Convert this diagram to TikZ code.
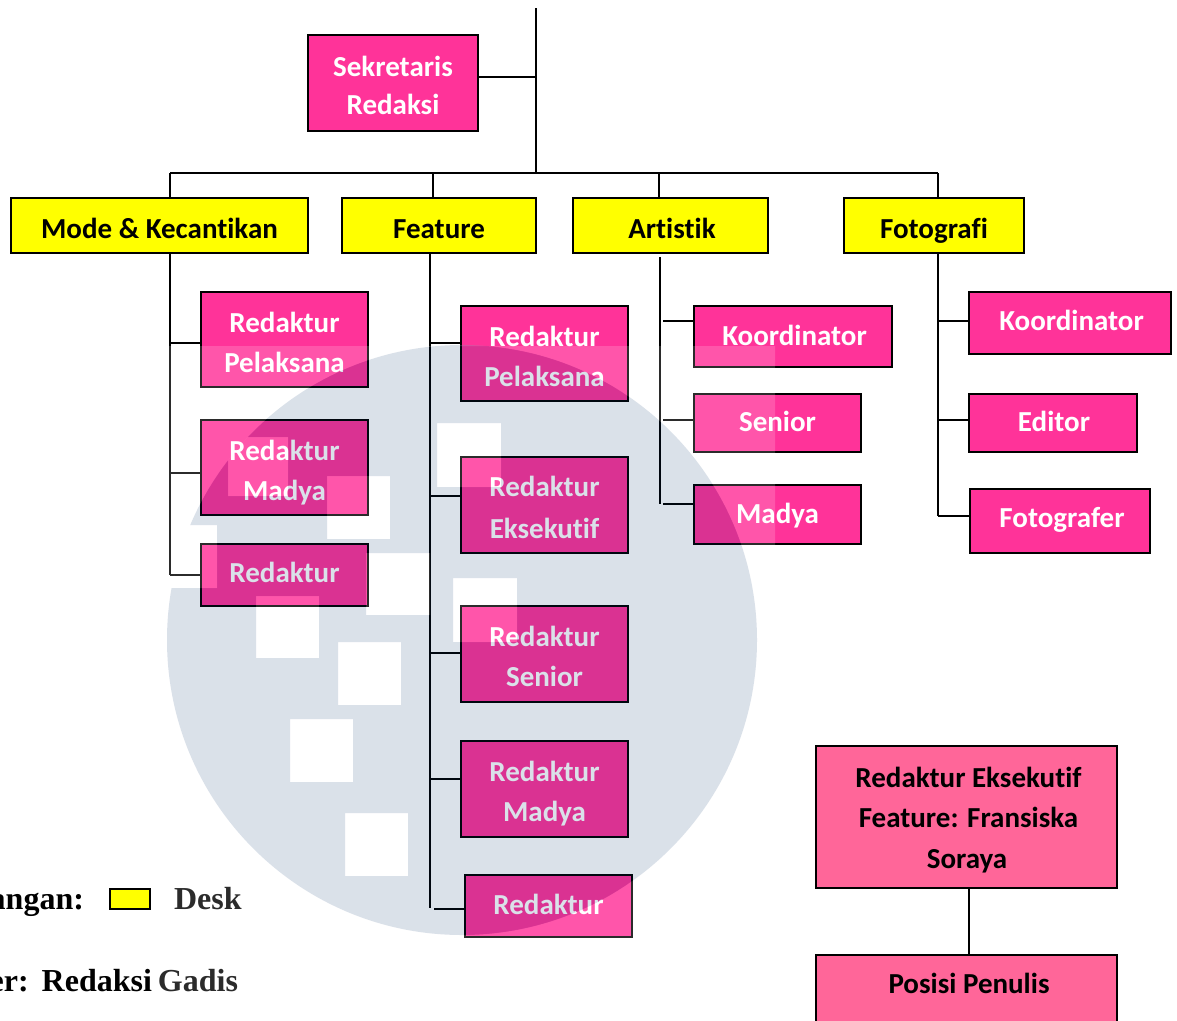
\documentclass[tikz,border=0pt]{standalone}
\usepackage{fontspec}
\setmainfont[Ligatures=NoCommon]{Carlito}
\newfontfamily\legendfont{Liberation Serif}
\definecolor{deskyellow}{HTML}{FFFF00}
\definecolor{rolepink}{HTML}{FF3399}
\definecolor{notepink}{HTML}{FF6699}
\definecolor{wmnavy}{RGB}{0,50,107}
\newcommand{\lineroom}[1]{\rule{0pt}{#1}}
\tikzset{
	boxtext/.style={execute at begin node={\lineroom{#1}}, execute at end node={\rule[-8pt]{0pt}{0pt}}},
	deskbox/.style={draw=black, line width=2pt, fill=deskyellow, text=black, inner sep=0pt, font=\fontsize{29}{40}\selectfont\bfseries},
	rolebox/.style={draw=black, line width=2pt, fill=rolepink, text=white, inner sep=0pt, align=center, font=\fontsize{29}{40}\selectfont\bfseries},
	roleone/.style={rolebox, boxtext=25pt},
	roletwo/.style={rolebox, execute at end node={\rule[-8pt]{0pt}{0pt}}},
	notebox/.style={draw=black, line width=2pt, fill=notepink, text=black, inner sep=0pt, align=center, font=\fontsize{29}{40.5}\selectfont\bfseries},
	legendtext/.style={inner sep=0pt, text=black, font=\fontsize{32}{36}\legendfont\bfseries}
}
% white squares of the watermark
\def\wmholes{(228,437) rectangle (288,496) (327,476) rectangle (390,539) (150,525) rectangle (217,588)
	(366,553) rectangle (430,615) (256,596) rectangle (319,658) (338,642) rectangle (401,705)
	(437,423) rectangle (501,487) (453,578) rectangle (517,642) (290,719) rectangle (353,782)
	(345,813) rectangle (408,876)}
\begin{document}
\begin{tikzpicture}[x=1pt, y=-1pt, line width=2pt]
	\useasboundingbox (0,0) rectangle (1177,1020);
	\fill[white] (0,0) rectangle (1177,1020);
	% top
	\node[roletwo, minimum width=170, minimum height=96] (sekre) at (393,83) {\lineroom{33pt}Sekretaris\\[-2pt]Redaksi};
	% desks
	\node[deskbox, boxtext=33pt, minimum width=297, minimum height=55] (mode) at (159.5,225.5) {Mode \& Kecantikan};
	\node[deskbox, boxtext=33pt, minimum width=194, minimum height=55] (feature) at (439,225.5) {Feature};
	\node[deskbox, boxtext=33pt, minimum width=195, minimum height=55] (artistik) at (670.5,225.5) {\hspace*{3pt}Artistik};
	\node[deskbox, boxtext=33pt, minimum width=180, minimum height=55] (foto) at (934,225.5) {Fotografi};
	% mode
	\node[roletwo, minimum width=167, minimum height=95] (mode1) at (284.5,339.5) {\lineroom{33pt}Redaktur\\Pelaksana};
	\node[roletwo, minimum width=167, minimum height=95] (mode2) at (284.5,467.5) {\lineroom{33pt}Redaktur\\Madya};
	\node[rolebox, boxtext=22pt, minimum width=167, minimum height=62] (mode3) at (284.5,575) {Redaktur};
	% feature
	\node[roletwo, minimum width=167, minimum height=95] (feat1) at (544.5,353.5) {\lineroom{33pt}Redaktur\\Pelaksana};
	\node[roletwo, minimum width=167, minimum height=96] (feat2) at (544.5,505) {\lineroom{33pt}Redaktur\\[2pt]Eksekutif};
	\node[roletwo, minimum width=167, minimum height=96] (feat3) at (544.5,654) {\lineroom{33pt}Redaktur\\Senior};
	\node[roletwo, minimum width=167, minimum height=96] (feat4) at (544.5,789) {\lineroom{33pt}Redaktur\\Madya};
	\node[roleone, minimum width=167, minimum height=62] (feat5) at (548.5,906) {Redaktur};
	% artistik
	\node[roleone, minimum width=198, minimum height=61] (art1) at (793,336.5) {\hspace*{3pt}Koordinator};
	\node[roleone, minimum width=167, minimum height=58] (art2) at (777.5,423) {Senior};
	\node[roleone, minimum width=167, minimum height=59] (art3) at (777.5,514.5) {Madya};
	% fotografi
	\node[rolebox, boxtext=22pt, minimum width=202, minimum height=62] (foto1) at (1070,323) {\hspace*{3pt}Koordinator};
	\node[roleone, minimum width=168, minimum height=58] (foto2) at (1053,423) {\hspace*{2pt}Editor};
	\node[rolebox, boxtext=22pt, minimum width=180, minimum height=64] (foto3) at (1060,520.5) {\hspace*{4pt}Fotografer};
	% writer position
	\node[notebox, execute at end node={\rule[-8pt]{0pt}{0pt}}, minimum width=301, minimum height=142] (eks) at (966.5,817) {\lineroom{29pt}\hspace*{4pt}Redaktur Eksekutif\\\hspace*{4pt}Feature: Fransiska\\\hspace*{1pt}Soraya};
	\node[notebox, anchor=north, minimum width=301, text height=38pt, text depth=50pt] (penulis) at (966.5,954) {\hspace*{5pt}Posisi Penulis};
	% legend
	\node[deskbox, minimum width=40, minimum height=20] (legbox) at (130,899) {};
	\node[legendtext, anchor=base east] (legkey) at (85,909) {angan:};
	\node[legendtext, anchor=base west] (legdesk) at (173,909) {Desk};
	\node[legendtext, anchor=base east] (legsrc) at (239,991) {er:\hspace{13pt}Redaksi\hspace{6pt}Gadis};
	% junctions
	\coordinate (start) at (536,8);
	\coordinate (sj) at (536,77);
	\coordinate (hub) at (536,173);
	\coordinate (dA) at (170,173);
	\coordinate (dB) at (433,173);
	\coordinate (dC) at (659,173);
	\coordinate (dD) at (938,173);
	\coordinate (vA) at (170,254);
	\coordinate (eA) at (170,575);
	\coordinate (vB) at (430,254);
	\coordinate (eB) at (430,908);
	\coordinate (vC) at (660,257);
	\coordinate (eC) at (660,504);
	\coordinate (vD) at (938,254);
	\coordinate (eD) at (938,516);
	\coordinate (A1) at (170,343);
	\coordinate (A2) at (170,473);
	\coordinate (B1) at (430,343);
	\coordinate (B2) at (430,496);
	\coordinate (B3) at (430,653);
	\coordinate (B4) at (430,779);
	\coordinate (B5) at (434,909);
	\coordinate (C1) at (663,321);
	\coordinate (C2) at (663,420);
	\coordinate (C3) at (663,504);
	\coordinate (D1) at (938,321);
	\coordinate (D2) at (938,420);
	% connectors
	\draw (start)--(hub) (sj)--(sj -| sekre.east);
	\draw (dA)--(dD);
	\draw (dA)--(dA |- mode.north) (dB)--(dB |- feature.north) (dC)--(dC |- artistik.north) (dD)--(dD |- foto.north);
	\draw (vA)--(eA) (vB)--(eB) (vC)--(eC) (vD)--(eD);
	\draw (A1)--(A1 -| mode1.west) (A2)--(A2 -| mode2.west) (eA)--(eA -| mode3.west);
	\draw (B1)--(B1 -| feat1.west) (B2)--(B2 -| feat2.west) (B3)--(B3 -| feat3.west) (B4)--(B4 -| feat4.west) (B5)--(B5 -| feat5.west);
	\draw (C1)--(C1 -| art1.west) (C2)--(C2 -| art2.west) (C3)--(C3 -| art3.west);
	\draw (D1)--(D1 -| foto1.west) (D2)--(D2 -| foto2.west) (eD)--(eD -| foto3.west);
	\draw (eks.south -| 969,0)--(penulis.north -| 969,0);
	% watermark on top of everything
	\fill[white, fill opacity=0.167, even odd rule] (157,346) rectangle (775,1020) (462,640) circle (295);
	\begin{scope}
		\clip (462,640) circle (295);
		\fill[white, fill opacity=0.167] \wmholes;
		\fill[wmnavy, fill opacity=0.145, even odd rule] (150,340) rectangle (775,940) \wmholes;
	\end{scope}
\end{tikzpicture}
\end{document}
